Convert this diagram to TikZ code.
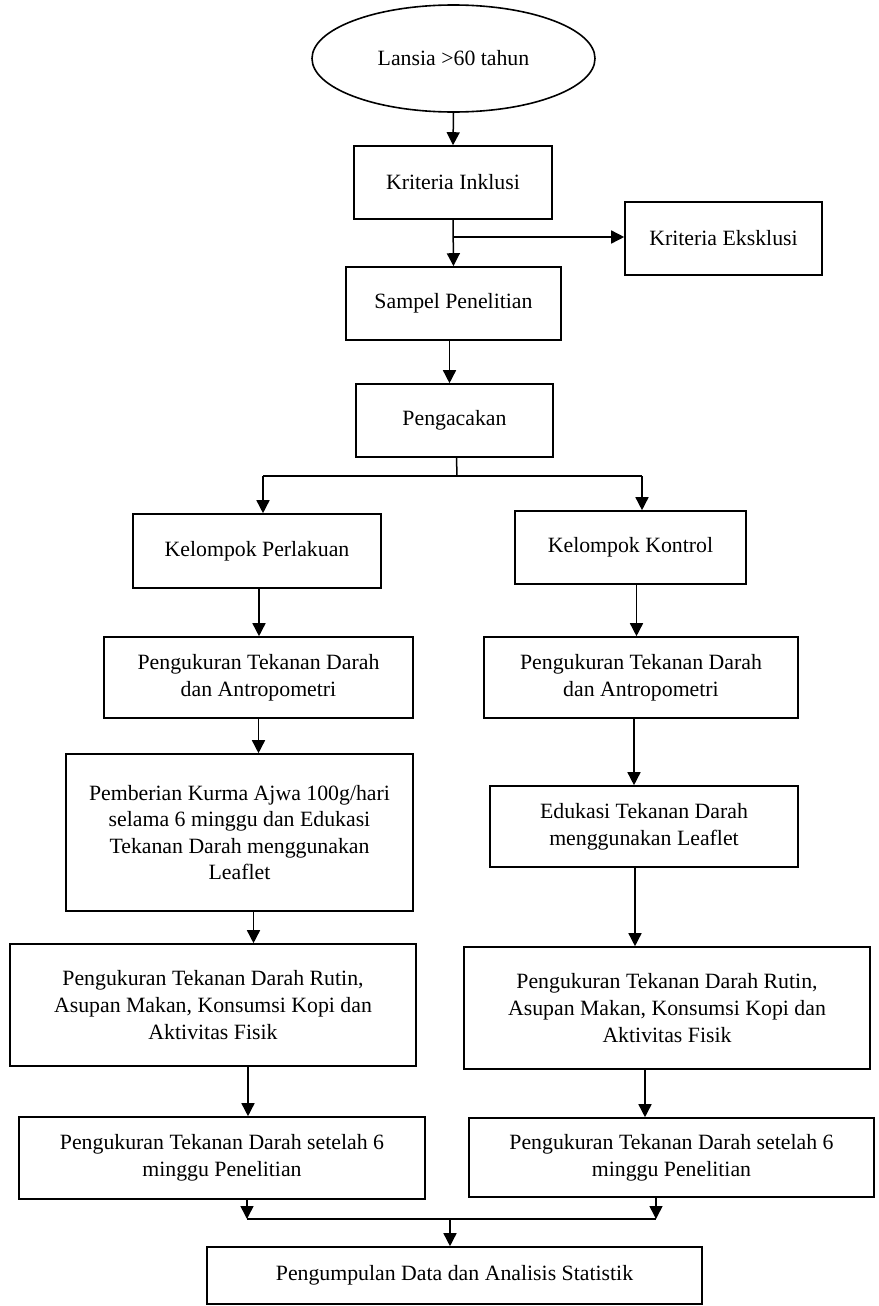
\documentclass[tikz,border=0pt]{standalone}
\usepackage{fontspec}
\setmainfont{Liberation Serif}
\usepackage{tikz}
\usetikzlibrary{arrows.meta,shapes.geometric}

\tikzset{
    kotak/.style={draw, rectangle, align=center, inner sep=0pt, line width=0.8pt},
    panah/.style={-{Triangle[length=6.5pt,width=6.5pt]}, line width=0.75pt},
    garis/.style={line width=0.75pt}
}

\begin{document}
\begin{tikzpicture}[x=0.5pt, y=-0.5pt, every node/.style={font=\fontsize{10.9pt}{13.3pt}\selectfont}]
    \useasboundingbox (0,0) rectangle (878,1306);

    % alur utama
    \node[draw, ellipse, line width=0.8pt, minimum width=141.5pt, minimum height=53.5pt, inner sep=0pt] (lansia) at (453.5,58.5) {Lansia >60 tahun};
    \node[kotak, minimum width=99pt, minimum height=36.5pt] (inklusi) at (453,182.5) {Kriteria Inklusi};
    \node[kotak, minimum width=98.5pt, minimum height=36.5pt] (eksklusi) at (723.5,238.5) {Kriteria Eksklusi};
    \node[kotak, minimum width=107.5pt, minimum height=36.5pt] (sampel) at (453.5,303.5) {Sampel Penelitian};
    \node[kotak, minimum width=98.5pt, minimum height=36.5pt] (acak) at (454.5,420.5) {Pengacakan};

    % kelompok perlakuan
    \node[kotak, minimum width=124pt, minimum height=37pt] (perlakuan) at (257,551) {Kelompok Perlakuan};
    \node[kotak, minimum width=154.5pt, minimum height=40.5pt] (ukurA) at (258.5,677.5) {Pengukuran Tekanan Darah\\dan Antropometri};
    \node[kotak, minimum width=173.5pt, minimum height=78.5pt] (beriA) at (239.5,832.5) {Pemberian Kurma Ajwa 100g/hari\\selama 6 minggu dan Edukasi\\Tekanan Darah menggunakan\\Leaflet};
    \node[kotak, minimum width=203pt, minimum height=61pt] (rutinA) at (213,1005) {Pengukuran Tekanan Darah Rutin,\\Asupan Makan, Konsumsi Kopi dan\\Aktivitas Fisik};
    \node[kotak, minimum width=203pt, minimum height=41pt] (akhirA) at (222,1158) {Pengukuran Tekanan Darah setelah 6\\minggu Penelitian};

    % kelompok kontrol
    \node[kotak, minimum width=115.5pt, minimum height=36.5pt] (kontrol) at (630.5,547.5) {Kelompok Kontrol};
    \node[kotak, minimum width=157pt, minimum height=40.5pt] (ukurB) at (641,677.5) {Pengukuran Tekanan Darah\\dan Antropometri};
    \node[kotak, minimum width=154pt, minimum height=40.5pt] (eduB) at (644,826.5) {Edukasi Tekanan Darah\\menggunakan Leaflet};
    \node[kotak, minimum width=203pt, minimum height=61pt] (rutinB) at (667,1008) {Pengukuran Tekanan Darah Rutin,\\Asupan Makan, Konsumsi Kopi dan\\Aktivitas Fisik};
    \node[kotak, minimum width=202.5pt, minimum height=39.5pt] (akhirB) at (671.5,1157.5) {Pengukuran Tekanan Darah setelah 6\\minggu Penelitian};

    \node[kotak, minimum width=247.5pt, minimum height=28.5pt] (analisis) at (454.5,1275.5) {Pengumpulan Data dan Analisis Statistik};

    % titik percabangan
    \coordinate (cabang) at (457,476);
    \coordinate (cabangKiri) at (263,476);
    \coordinate (cabangKanan) at (642,476);
    \coordinate (gabung) at (450,1219);
    \coordinate (gabungKiri) at (247,1219);
    \coordinate (gabungKanan) at (656,1219);

    \draw[panah] (lansia.south) -- (inklusi.north);
    \draw[panah] (inklusi.south) -- (sampel.north);
    \draw[panah] ([yshift=0.75pt]inklusi.south |- eksklusi.west) -- ([yshift=0.75pt]eksklusi.west);
    \draw[panah] ([xshift=-2pt]sampel.south) -- ([xshift=-2pt]sampel.south |- acak.north);

    \draw[garis] ([xshift=1pt]acak.south) -- (cabang);
    \draw[garis] (cabangKiri) -- (cabangKanan);
    \draw[panah] (cabangKiri) -- (cabangKiri |- perlakuan.north);
    \draw[panah] (cabangKanan) -- (cabangKanan |- kontrol.north);

    \draw[panah] ([xshift=1pt]perlakuan.south) -- ([xshift=1pt]perlakuan.south |- ukurA.north);
    \draw[panah] (ukurA.south) -- (ukurA.south |- beriA.north);
    \draw[panah] ([xshift=7pt]beriA.south) -- ([xshift=7pt]beriA.south |- rutinA.north);
    \draw[panah] ([xshift=17.5pt]rutinA.south) -- ([xshift=17.5pt]rutinA.south |- akhirA.north);

    \draw[panah] ([xshift=3pt]kontrol.south) -- ([xshift=3pt]kontrol.south |- ukurB.north);
    \draw[panah] ([xshift=-3.5pt]ukurB.south) -- ([xshift=-3.5pt]ukurB.south |- eduB.north);
    \draw[panah] ([xshift=-4.5pt]eduB.south) -- ([xshift=-4.5pt]eduB.south |- rutinB.north);
    \draw[panah] ([xshift=-11pt]rutinB.south) -- ([xshift=-11pt]rutinB.south |- akhirB.north);

    \draw[panah] (akhirA.south -| gabungKiri) -- (gabungKiri);
    \draw[panah] (akhirB.south -| gabungKanan) -- (gabungKanan);
    \draw[garis] (gabungKiri) -- (gabungKanan);
    \draw[panah] (gabung) -- (gabung |- analisis.north);
\end{tikzpicture}
\end{document}
